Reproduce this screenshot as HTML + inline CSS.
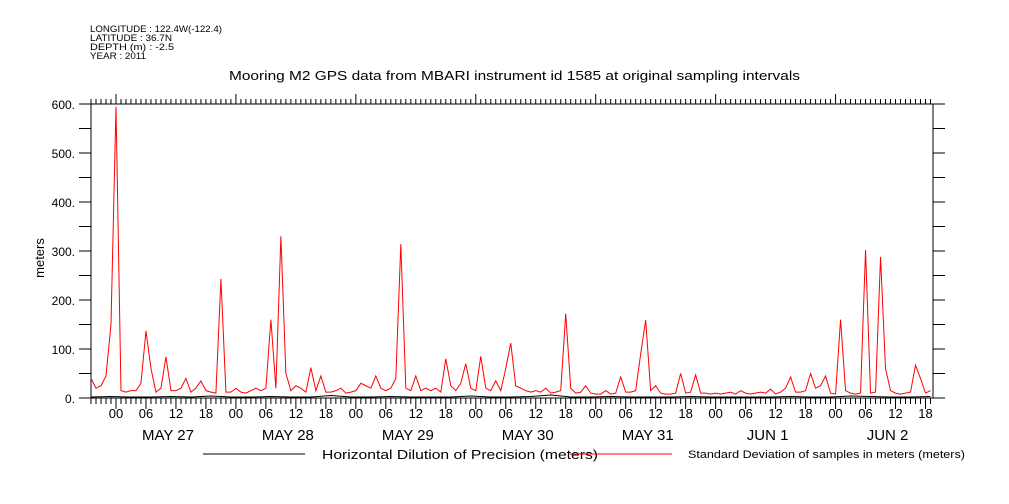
<!DOCTYPE html>
<html><head><meta charset="utf-8"><style>
body{margin:0;background:#fff;}
svg{display:block;font-family:"Liberation Sans",sans-serif;}
</style></head><body>
<svg id="c" width="1009" height="504" viewBox="0 0 1009 504"></svg>
<script>
const redValues=[40,20,25,45,150,595,15,12,15,15,30,137,60,12,20,84,15,15,20,40,12,20,35,15,12,10,243,12,12,20,12,10,15,20,15,20,160,20,330,50,15,25,20,12,62,15,45,12,12,15,20,10,12,15,30,25,20,45,20,15,20,40,314,20,15,45,15,20,15,20,12,80,25,15,30,70,20,15,85,20,15,35,15,60,112,25,20,15,12,15,12,20,10,12,15,172,20,10,12,25,10,8,8,15,8,10,43,12,12,15,90,159,15,25,10,8,8,10,50,10,12,47,10,10,8,10,8,10,12,8,15,10,8,10,12,10,18,8,12,20,43,12,12,15,50,20,25,45,10,8,160,15,10,8,10,302,10,12,288,60,15,10,8,10,12,67,40,10,15];
const blackValues=[2,3,2,2,3,2,4,2,2,3,2,2,5,2,2,3,2,2,2,4,2,2,3,6,2,2,3,2,2,2,3,2,2,2,2,3,2,2,4,3,2,2,3];
const yTicks=[0,100,200,300,400,500,600];
const yTickLabels=["0.","100.","200.","300.","400.","500.","600."];
const hourLabels=["00","06","12","18"];
const dayLabels=["MAY 27","MAY 28","MAY 29","MAY 30","MAY 31","JUN  1","JUN  2"];
const L=91,R=933,T=104,B=398,HOURS=168.5,START=19;
const X=h=>L+h*(R-L)/HOURS, Y=v=>B-v*(B-T)/600;
const s=document.getElementById('c'),NS="http://www.w3.org/2000/svg";
function mk(tag,at,txt){const e=document.createElementNS(NS,tag);for(const k in at)e.setAttribute(k,at[k]);if(txt!==undefined)e.textContent=txt;s.appendChild(e);return e;}
function txt(x,y,t,size,anchor,name,len){const at={x:x,y:y,'font-size':size,'text-anchor':anchor||'start',fill:'#000'};
if(len){at.textLength=len;at.lengthAdjust='spacingAndGlyphs';}
const e=mk('text',at,t);

return e;}
[["LONGITUDE : 122.4W(-122.4)",132],["LATITUDE : 36.7N",82],["DEPTH (m) : -2.5",84],["YEAR : 2011",56]].forEach((t,i)=>{txt(90,32+i*9,t[0],9,'start','header-info',t[1]);});
txt(229,80,"Mooring M2 GPS data from MBARI instrument id 1585 at original sampling intervals",13,'start','chart-title',571);
const fr=mk('rect',{x:L,y:T,width:R-L,height:B-T,fill:'none',stroke:'#000','stroke-width':1});


for(let v=0;v<=600;v+=50){const y=Y(v);
mk('line',{x1:L-12,x2:L,y1:y,y2:y,stroke:'#000'});
mk('line',{x1:R,x2:R+12,y1:y,y2:y,stroke:'#000'});}
yTicks.forEach((v,i)=>{txt(75,Y(v)+5,yTickLabels[i],12,'end','y-tick-label');});
const yt=txt(0,0,"meters",13,'middle','y-axis-title');yt.setAttribute('transform','translate(44,258) rotate(-90)');
for(let h=0;h<=168;h++){const x=X(h),hr=(h+START)%24;
const maj=hr%6===0,day=hr===0;
mk('line',{x1:x,x2:x,y1:B,y2:B+(maj?11:6),stroke:'#000'});
mk('line',{x1:x,x2:x,y1:T,y2:T-(day?10:5),stroke:'#000'});
if(maj){txt(x,418,hourLabels[hr/6],13,'middle','x-hour-label');}
if(day){txt(x+52,440,dayLabels[(h+START)/24-1],15,'middle','x-day-label');}}
const rp=redValues.map((v,i)=>X(i)+','+Y(v)).join(' ');
const r=mk('polyline',{points:rp,fill:'none',stroke:'#f00','stroke-width':1});


const bp=blackValues.map((v,i)=>X(i*4)+','+Y(v)).join(' ');
const b=mk('polyline',{points:bp,fill:'none',stroke:'#000','stroke-width':1});


const l1=mk('line',{x1:203,x2:305,y1:454,y2:454,stroke:'#000'});


txt(322,459,"Horizontal Dilution of Precision (meters)",13,'start','legend-label-hdop',276);
const l2=mk('line',{x1:570,x2:672,y1:454,y2:454,stroke:'#f00'});


txt(688,458,"Standard Deviation of samples in meters (meters)",11,'start','legend-label-std-dev',277);
</script>
</body></html>
